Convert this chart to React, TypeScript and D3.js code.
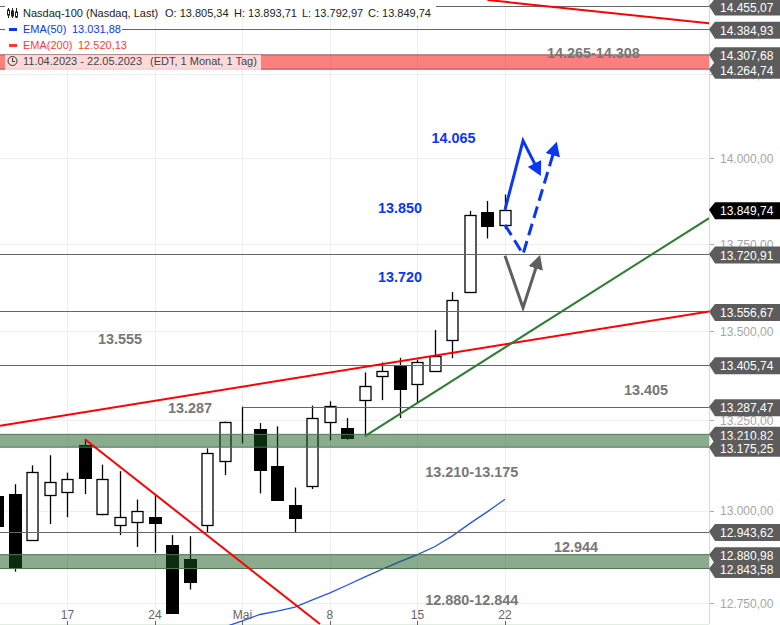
import { useEffect, useRef } from 'react'
import * as d3 from 'd3'

const dates = ['11.4', '12.4', '13.4', '14.4', '17.4', '18.4', '19.4', '20.4', '21.4', '24.4', '25.4', '26.4', '27.4', '28.4', '1.5', '2.5', '3.5', '4.5', '5.5', '8.5', '9.5', '10.5', '11.5', '12.5', '15.5', '16.5', '17.5', '18.5', '19.5', '22.5']
const opens = [13040, 13045, 12922, 13044, 13053, 13180, 12992, 12962, 12970, 12982, 12907, 12869, 12962, 13137, 13230, 13225, 13122, 13015, 13068, 13246, 13228, 13307, 13374, 13403, 13352, 13388, 13475, 13612, 13842, 13805.34]
const highs = [13040, 13073, 13125, 13153, 13105, 13197, 13127, 13109, 13031, 13043, 12934, 12931, 13172, 13246, 13288, 13242, 13233, 13064, 13291, 13303, 13256, 13384, 13412, 13425, 13420, 13504, 13612, 13846, 13875, 13893.71]
const lows = [12960, 12835, 12922, 12964, 12983, 13046, 12988, 12934, 12902, 12886, 12725, 12787, 12942, 13098, 13186, 13048, 13027, 12941, 13060, 13194, 13196, 13206, 13306, 13256, 13298, 13388, 13424, 13612, 13766, 13792.97]
const closes = [12960, 12848, 13108, 13080, 13088, 13090, 13088, 12984, 13000, 12967, 12725, 12806, 13160, 13246, 13230, 13112, 13029, 12980, 13257, 13291, 13201, 13347, 13389, 13337, 13412, 13431, 13590, 13833, 13803, 13849.74]

// EMA(50) only enters the visible range in the last third of the window
const emaStart = 13
const ema50 = [12687, 12703, 12720, 12729, 12740, 12759, 12778, 12799, 12821, 12842, 12862, 12881, 12903, 12932, 12966, 12998, 13031.88]

const priceTicks = [14250, 14000, 13750, 13500, 13250, 13000, 12750]
const dateTicks = [{ i: 4, label: '17' }, { i: 9, label: '24' }, { i: 14, label: 'Mai' }, { i: 19, label: '8' }, { i: 24, label: '15' }, { i: 29, label: '22' }]

const fullLevels = [14455.07, 14384.93, 13720.91, 13556.67, 13405.74, 12943.62]
const mayHighLevel = 13287.47
const redZone = [14307.68, 14264.74]
const greenZones = [[13210.82, 13175.25], [12880.98, 12843.58]]

// price tags, drawn in this order so the later one sits on top
const tagValues = [14455.07, 14384.93, 14264.74, 14307.68, 13720.91, 13556.67, 13405.74, 13287.47, 13210.82, 13175.25, 12943.62, 12843.58, 12880.98]

// [day index, price] pairs
const upperRedLine: [number, number][] = [[28, 14473.6], [40.66, 14403]]
const mainRedLine: [number, number][] = [[0.15, 13235], [40.66, 13556.67]]
const downRedLine: [number, number][] = [[5, 13197], [18.43, 12694.6]]
const greenLine: [number, number][] = [[21, 13206], [40.66, 13825]]
const solidArrow: [number, number][] = [[29, 13849.74], [30.03, 14052], [30.97, 13956]]
const dashedArrow: [number, number][] = [[29, 13805.34], [30.03, 13720.91], [31.91, 14040]]
const grayArrow: [number, number][] = [[29, 13716], [30.03, 13567], [30.95, 13710]]

const grayNotes = [
  { text: '14.265-14.308', i: 31.4, price: 14299 },
  { text: '13.555', i: 5.75, price: 13464 },
  { text: '13.287', i: 9.75, price: 13269 },
  { text: '13.405', i: 35.8, price: 13321 },
  { text: '13.210-13.175', i: 24.45, price: 13092 },
  { text: '12.944', i: 31.8, price: 12889 },
  { text: '12.880-12.844', i: 24.45, price: 12746 },
]
const blueNotes = [
  { text: '14.065', i: 24.8, price: 14044 },
  { text: '13.850', i: 21.75, price: 13839 },
  { text: '13.720', i: 21.75, price: 13642 },
]

const fmt = (v: number) => {
  const [a, b] = v.toFixed(2).split('.')
  return a.slice(0, -3) + '.' + a.slice(-3) + ',' + b
}

const App = () => {
  const svgRef = useRef<SVGSVGElement | null>(null)

  useEffect(() => {
    const width = 780
    const height = 625
    const plotRight = 709
    const plotBottom = 624
    const svg = d3.select(svgRef.current)
    svg.selectAll('*').remove()
    svg.attr('width', width).attr('height', height).attr('viewBox', `0 0 ${width} ${height}`)

    const x = d3.scaleLinear().domain([0, 29]).range([-2.6, 505])
    const y = d3.scaleLog().domain([12694.6, 14473.6]).range([plotBottom, 0])
    const line = d3.line<[number, number]>().x((d) => x(d[0])).y((d) => y(d[1]))

    const defs = svg.append('defs')
    defs.append('clipPath').attr('id', 'plot').append('rect').attr('width', plotRight).attr('height', plotBottom + 1)
    const marker = (id: string, color: string) =>
      defs
        .append('marker')
        .attr('id', id)
        .attr('markerUnits', 'userSpaceOnUse')
        .attr('viewBox', '0 0 14 15')
        .attr('markerWidth', 14)
        .attr('markerHeight', 15)
        .attr('refX', 11)
        .attr('refY', 7.5)
        .attr('orient', 'auto')
        .append('path')
        .attr('d', 'M0,0L14,7.5L0,15Z')
        .attr('fill', color)
    marker('arrow-blue', '#0a37f5')
    marker('arrow-gray', '#5f5f5f')

    // grid
    const grid = svg.append('g').attr('stroke', '#eeeeee').attr('stroke-width', 1)
    priceTicks.forEach((t) => {
      grid.append('line').attr('x1', 0).attr('x2', plotRight).attr('y1', Math.round(y(t)) + 0.5).attr('y2', Math.round(y(t)) + 0.5)
    })
    dateTicks.forEach((t) => {
      grid.append('line').attr('x1', Math.round(x(t.i)) + 0.5).attr('x2', Math.round(x(t.i)) + 0.5).attr('y1', 0).attr('y2', plotBottom)
    })

    svg.append('line').attr('x1', plotRight + 0.5).attr('x2', plotRight + 0.5).attr('y1', 0).attr('y2', plotBottom).attr('stroke', '#d9d9d9')
    svg.append('line').attr('x1', 0).attr('x2', plotRight).attr('y1', plotBottom + 0.5).attr('y2', plotBottom + 0.5).attr('stroke', '#e3eee3')

    // price axis
    priceTicks.forEach((t) => {
      svg.append('line').attr('x1', plotRight + 1).attr('x2', plotRight + 5).attr('y1', Math.round(y(t)) + 0.5).attr('y2', Math.round(y(t)) + 0.5).attr('stroke', '#aaaaaa')
      svg.append('text').attr('x', 720).attr('y', y(t) + 4.5).attr('fill', '#a6a6a6').attr('font-size', 12).text(fmt(t))
    })

    // date axis
    dateTicks.forEach((t) => {
      svg.append('line').attr('x1', Math.round(x(t.i)) + 0.5).attr('x2', Math.round(x(t.i)) + 0.5).attr('y1', plotBottom - 3).attr('y2', plotBottom + 1).attr('stroke', '#666666')
      svg.append('text').attr('x', x(t.i)).attr('y', 619).attr('text-anchor', 'middle').attr('fill', '#666666').attr('font-size', 12).text(t.label)
    })

    const chart = svg.append('g').attr('clip-path', 'url(#plot)')

    // candles
    dates.forEach((_, i) => {
      const top = Math.round(y(Math.max(opens[i], closes[i])))
      const bottom = Math.round(y(Math.min(opens[i], closes[i])))
      const up = closes[i] >= opens[i]
      const candleW = up ? 11 : 12
      const cx = Math.round(x(i)) + 0.5
      chart.append('line').attr('x1', cx).attr('x2', cx).attr('y1', y(highs[i])).attr('y2', y(lows[i])).attr('stroke', '#000').attr('stroke-width', 1.3)
      chart
        .append('rect')
        .attr('x', cx - candleW / 2)
        .attr('y', top + 0.5)
        .attr('width', candleW)
        .attr('height', Math.max(bottom - top, 0))
        .attr('fill', up ? '#fff' : '#000')
        .attr('stroke', '#000')
        .attr('stroke-width', up ? 1.3 : 1)
    })

    // EMA 50
    chart
      .append('path')
      .datum(ema50.map((v, i) => [emaStart + i, v] as [number, number]))
      .attr('d', line)
      .attr('fill', 'none')
      .attr('stroke', '#2255ee')
      .attr('stroke-width', 1.3)

    // levels
    fullLevels.forEach((v) => {
      chart.append('line').attr('x1', 0).attr('x2', plotRight).attr('y1', Math.round(y(v)) + 0.5).attr('y2', Math.round(y(v)) + 0.5).attr('stroke', '#666666')
    })
    chart.append('line').attr('x1', x(14)).attr('x2', plotRight).attr('y1', Math.round(y(mayHighLevel)) + 0.5).attr('y2', Math.round(y(mayHighLevel)) + 0.5).attr('stroke', '#666666')

    // zones
    chart
      .append('rect')
      .attr('x', -2)
      .attr('width', plotRight + 4)
      .attr('y', y(redZone[0]))
      .attr('height', y(redZone[1]) - y(redZone[0]))
      .attr('fill', 'rgba(255,0,0,0.5)')
      .attr('stroke', '#8a5a5a')
    greenZones.forEach((z) => {
      chart
        .append('rect')
        .attr('x', -2)
        .attr('width', plotRight + 4)
        .attr('y', y(z[0]))
        .attr('height', y(z[1]) - y(z[0]))
        .attr('fill', 'rgba(24,87,32,0.5)')
        .attr('stroke', '#4f7553')
    })

    // trend lines
    const trend = (pts: [number, number][], color: string) =>
      chart.append('path').datum(pts).attr('d', line).attr('fill', 'none').attr('stroke', color).attr('stroke-width', 2)
    trend(upperRedLine, '#ff0000')
    trend(mainRedLine, '#ff0000')
    trend(downRedLine, '#ff0000')
    trend(greenLine, '#2e7d32')

    // scenario arrows
    const arrow = (pts: [number, number][], color: string, head: string, dash?: string) =>
      chart
        .append('path')
        .datum(pts)
        .attr('d', line)
        .attr('fill', 'none')
        .attr('stroke', color)
        .attr('stroke-width', 3)
        .attr('stroke-miterlimit', 6)
        .attr('stroke-dasharray', dash ?? null)
        .attr('marker-end', `url(#${head})`)
    arrow(solidArrow, '#0a37f5', 'arrow-blue')
    arrow(dashedArrow, '#0a37f5', 'arrow-blue', '12 6')
    arrow(grayArrow, '#5f5f5f', 'arrow-gray')

    // notes
    const note = (n: { text: string; i: number; price: number }, color: string) =>
      svg.append('text').attr('x', x(n.i)).attr('y', y(n.price)).attr('fill', color).attr('font-size', 14.4).attr('font-weight', 700).text(n.text)
    grayNotes.forEach((n) => note(n, '#777777'))
    blueNotes.forEach((n) => note(n, '#0a37f5'))

    // price tags
    const tag = (v: number, fill: string) => {
      const c = y(v) + 1
      const g = svg.append('g')
      g.append('path')
        .attr('d', `M${plotRight},${c - 1}L${plotRight + 6},${c - 8.5}H780V${c + 8.5}H${plotRight + 6}Z`)
        .attr('fill', fill)
      g.append('text').attr('x', 720).attr('y', c + 4.5).attr('fill', '#fff').attr('font-size', 12).text(fmt(v))
    }
    tagValues.forEach((v) => tag(v, '#5c5c5c'))
    tag(closes[closes.length - 1], '#000000')

    // legend
    const legend = svg.append('g').attr('font-size', 11)
    const row = (rowY: number, w: number, opacity: number) =>
      legend.append('rect').attr('x', 5).attr('y', rowY).attr('width', w).attr('height', 15).attr('fill', '#fff').attr('fill-opacity', opacity)
    row(0, 431, 1)
    row(22, 117, 1)
    row(38, 125, 1)
    row(55, 256, 0.7)

    const icon = legend.append('g').attr('stroke', '#222').attr('fill', 'none')
    ;[8, 12, 16].forEach((ix, k) => {
      icon.append('line').attr('x1', ix + 0.5).attr('x2', ix + 0.5).attr('y1', 8).attr('y2', 18)
      icon.append('rect').attr('x', ix - 0.5).attr('y', 10 + k).attr('width', 2).attr('height', 5).attr('fill', k === 1 ? '#222' : '#fff')
    })
    legend.append('text').attr('x', 23).attr('y', 17).attr('fill', '#222').text('Nasdaq-100 (Nasdaq, Last)')
    legend.append('text').attr('x', 165).attr('y', 17).attr('fill', '#222').text('O: 13.805,34')
    legend.append('text').attr('x', 234).attr('y', 17).attr('fill', '#222').text('H: 13.893,71')
    legend.append('text').attr('x', 302).attr('y', 17).attr('fill', '#222').text('L: 13.792,97')
    legend.append('text').attr('x', 368).attr('y', 17).attr('fill', '#222').text('C: 13.849,74')

    legend.append('rect').attr('x', 9).attr('y', 28).attr('width', 8).attr('height', 3).attr('fill', '#0a37f5')
    legend.append('text').attr('x', 23).attr('y', 33).attr('fill', '#0a37f5').text('EMA(50)')
    legend.append('text').attr('x', 72).attr('y', 33).attr('fill', '#0a37f5').text('13.031,88')

    legend.append('rect').attr('x', 9).attr('y', 44).attr('width', 8).attr('height', 3).attr('fill', '#ff3b30')
    legend.append('text').attr('x', 23).attr('y', 49).attr('fill', '#ff3b30').text('EMA(200)')
    legend.append('text').attr('x', 78).attr('y', 49).attr('fill', '#ff3b30').text('12.520,13')

    const clock = legend.append('g').attr('stroke', '#333').attr('fill', 'none')
    clock.append('circle').attr('cx', 12.5).attr('cy', 61).attr('r', 4.5)
    clock.append('path').attr('d', 'M12.5,58V61.5H15')
    legend.append('text').attr('x', 23).attr('y', 65).attr('fill', '#444').text('11.04.2023 - 22.05.2023')
    legend.append('text').attr('x', 150).attr('y', 65).attr('fill', '#444').text('(EDT, 1 Monat, 1 Tag)')
  }, [])

  return <svg ref={svgRef} style={{ position: 'absolute', left: 0, top: 0, fontFamily: '"Liberation Sans", Arial, sans-serif' }} />
}

export default App
